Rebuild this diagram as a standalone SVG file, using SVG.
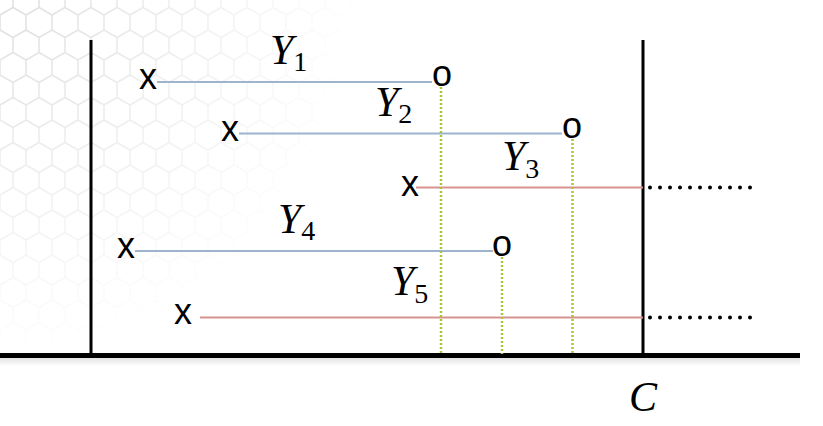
<svg xmlns="http://www.w3.org/2000/svg" width="823" height="426" viewBox="0 0 823 426">
  <defs>
    <pattern id="hex" width="26" height="45" patternUnits="userSpaceOnUse">
      <path d="M0,-15 L13,-7.5 L13,7.5 L0,15 L-13,7.5 L-13,-7.5 Z M26,-15 L39,-7.5 L39,7.5 L26,15 L13,7.5 L13,-7.5 Z M13,7.5 L26,15 L26,30 L13,37.5 L0,30 L0,15 Z M0,30 L13,37.5 L13,52.5 L0,60 L-13,52.5 L-13,37.5 Z M26,30 L39,37.5 L39,52.5 L26,60 L13,52.5 L13,37.5 Z" fill="none" stroke="#dcdcdc" stroke-width="1.6"/>
    </pattern>
    <radialGradient id="fade" cx="0" cy="0" r="360" gradientUnits="userSpaceOnUse">
      <stop offset="0" stop-color="#fff" stop-opacity="0.9"/>
      <stop offset="0.4" stop-color="#fff" stop-opacity="0.55"/>
      <stop offset="1" stop-color="#fff" stop-opacity="0"/>
    </radialGradient>
    <mask id="hexmask">
      <rect x="0" y="0" width="823" height="426" fill="url(#fade)"/>
    </mask>
    <linearGradient id="shadow" x1="0" y1="0" x2="0" y2="1">
      <stop offset="0" stop-color="#cfcfcf"/>
      <stop offset="1" stop-color="#ffffff"/>
    </linearGradient>
  </defs>
  <style>
    .axis { stroke: #000; stroke-width: 3; fill: none; }
    .base { stroke: #000; stroke-width: 5; fill: none; }
    .blue { stroke: #9db3cf; stroke-width: 2; fill: none; }
    .red { stroke: #d69390; stroke-width: 2; fill: none; }
    .green { stroke: #a9c63a; stroke-width: 2.5; stroke-dasharray: 2 2; fill: none; }
    .dots { stroke: #000; stroke-width: 4; stroke-linecap: round; stroke-dasharray: 0 10; fill: none; }
    .mark { font-family: "Liberation Sans", Arial, sans-serif; font-size: 36px; fill: #000; text-anchor: middle; }
    .lbl { font-family: "Liberation Serif", "Times New Roman", serif; font-style: italic; font-size: 42px; fill: #000; }
    .sub { font-style: normal; font-size: 28px; }
  </style>
  <rect width="823" height="426" fill="#fff"/>
  <rect width="823" height="426" fill="url(#hex)" mask="url(#hexmask)"/>

  <g id="frame">
    <rect x="0" y="358" width="800" height="8" fill="url(#shadow)" opacity="0.6"/>
    <line class="axis" x1="91" y1="40" x2="91" y2="354"/>
    <line class="axis" x1="643" y1="40" x2="643" y2="354"/>
    <line class="base" x1="0" y1="355.5" x2="800" y2="355.5"/>
  </g>

  <g id="connectors">
    <line class="blue" x1="157" y1="82" x2="432" y2="82"/>
    <line class="blue" x1="239" y1="133.5" x2="562" y2="133.5"/>
    <line class="red" x1="416" y1="187.5" x2="643" y2="187.5"/>
    <line class="blue" x1="135" y1="251" x2="493" y2="251"/>
    <line class="red" x1="200" y1="317.5" x2="643" y2="317.5"/>
    <line class="dots" x1="650" y1="187.5" x2="752" y2="187.5"/>
    <line class="dots" x1="650" y1="317.5" x2="752" y2="317.5"/>
    <line class="green" x1="441" y1="87" x2="441" y2="354"/>
    <line class="green" x1="572.5" y1="139" x2="572.5" y2="354"/>
    <line class="green" x1="502" y1="257" x2="502" y2="354"/>
  </g>

  <g id="interval1">
    <text class="mark" x="148" y="89">x</text>
    <text class="mark" x="442" y="86">o</text>
    <text class="lbl" x="270" y="64">Y<tspan class="sub" dy="7">1</tspan></text>
  </g>
  <g id="interval2">
    <text class="mark" x="230" y="141">x</text>
    <text class="mark" x="572" y="138">o</text>
    <text class="lbl" x="375" y="116">Y<tspan class="sub" dy="7">2</tspan></text>
  </g>
  <g id="interval3">
    <text class="mark" x="410" y="196">x</text>
    <text class="lbl" x="502" y="170">Y<tspan class="sub" dy="8">3</tspan></text>
  </g>
  <g id="interval4">
    <text class="mark" x="126" y="258">x</text>
    <text class="mark" x="502" y="256">o</text>
    <text class="lbl" x="278" y="233">Y<tspan class="sub" dy="7">4</tspan></text>
  </g>
  <g id="interval5">
    <text class="mark" x="183" y="324">x</text>
    <text class="lbl" x="391" y="295">Y<tspan class="sub" dy="8">5</tspan></text>
  </g>
  <g id="label-c">
    <text class="lbl" x="629" y="411">C</text>
  </g>
</svg>
